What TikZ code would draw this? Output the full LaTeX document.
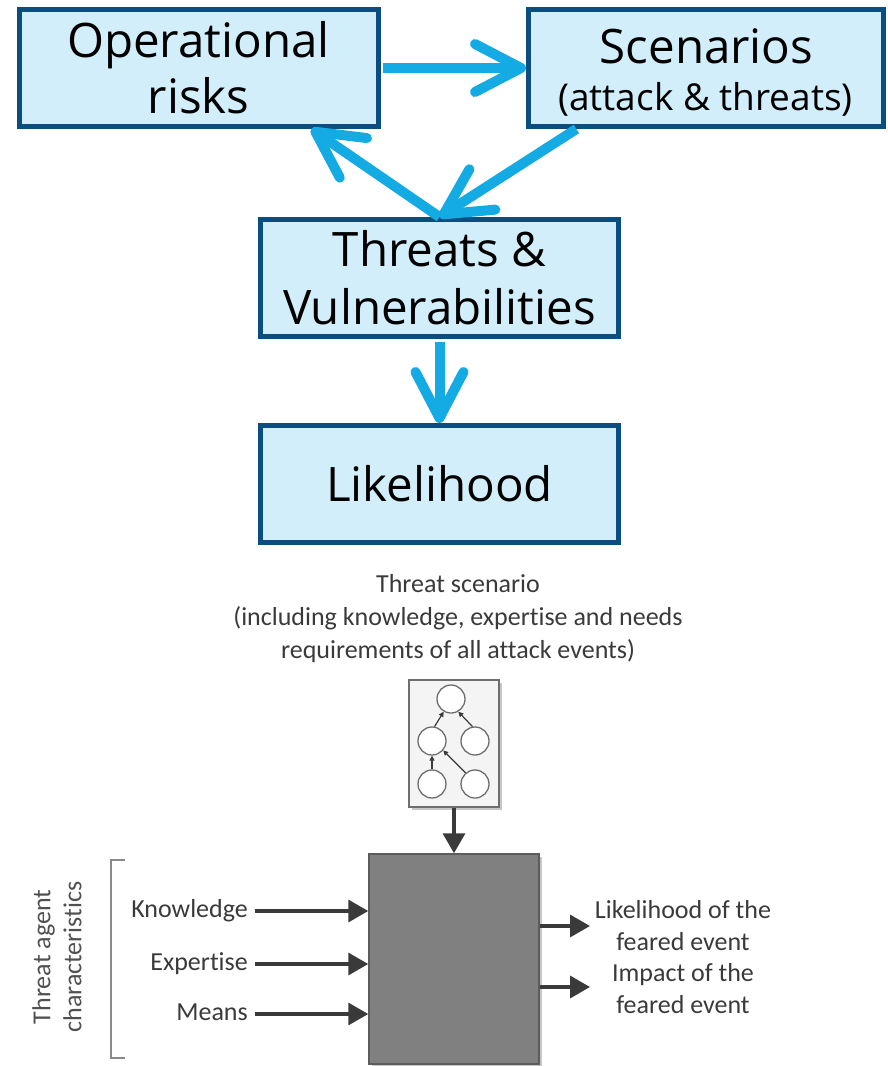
\documentclass[tikz,border=0pt]{standalone}
\usepackage{fontspec}
\setmainfont{Open Sans}
\newfontfamily\carlito[Ligatures=NoCommon]{Carlito}
\usetikzlibrary{arrows.meta,calc,shadows}

\definecolor{boxfill}{HTML}{D2EEFA}
\definecolor{boxline}{HTML}{0A4E80}
\definecolor{flowcyan}{HTML}{14AAE4}
\definecolor{txtgray}{HTML}{3A3A3A}
\definecolor{agentgray}{HTML}{505050}
\definecolor{bigfill}{HTML}{808080}
\definecolor{bigline}{HTML}{5C5C5C}
\definecolor{treefill}{HTML}{F4F4F4}
\definecolor{treeline}{HTML}{6E6E6E}
\definecolor{bracketgray}{HTML}{8A8A8A}

\tikzset{
  topbox/.style={draw=boxline, fill=boxfill, line width=5pt, rectangle,
    inner sep=0pt, align=center, font=\fontsize{47.5}{56}\selectfont},
  toptext/.style={inner sep=0pt, font=\fontsize{47.5}{56}\selectfont},
  flow/.style={draw=flowcyan, line width=10pt,
    -{Straight Barb[length=46pt,width=48pt,round]}},
  lbl/.style={inner sep=0pt, text=txtgray, font=\carlito\fontsize{26}{32}\selectfont},
  darr/.style={draw=txtgray, line width=3.5pt, -{Triangle[length=20pt,width=22pt]}},
  tarr/.style={draw=txtgray, line width=1.2pt, -{Triangle[length=5pt,width=5pt]}},
  evt/.style={circle, draw=treeline, line width=1.3pt, fill=white,
    minimum size=28pt, inner sep=0pt},
  softshadow/.style={drop shadow={shadow xshift=2.5pt, shadow yshift=-2.5pt,
    opacity=0.22, fill=black}}
}

\begin{document}
\begin{tikzpicture}[x=1pt,y=-1pt]
\useasboundingbox (0,0) rectangle (888,1066);

% upper flow: four boxes
\node[topbox, minimum width=359pt, minimum height=117pt] (op) at (198.5,68) {Operational\\risks};
\node[topbox, minimum width=355pt, minimum height=117pt] (scen) at (706,68) {};
\node[toptext, anchor=base] (scena) at (706.5,63) {Scenarios};
\node[toptext, anchor=base, font=\fontsize{37}{44}\selectfont] (scenb) at (705.5,110) {(attack \& threats)};
\node[topbox, minimum width=358pt, minimum height=117pt, font=\fontsize{47.5}{58}\selectfont]
  (thr) at (439.5,278) {Threats \&\\Vulnerabilities};
\node[topbox, minimum width=358pt, minimum height=117pt] (lik) at (439.5,484) {Likelihood};

% upper flow: arrows
\draw[flow] ([xshift=2.5pt]op.east) -- (scen.west);
\draw[flow] ($(scen.south west)!0.14!(scen.south east)$) -- (thr.north);
\draw[flow] (thr.north) -- ($(op.south west)!0.81!(op.south east)$);
\draw[flow] ([yshift=-2.5pt]thr.south) -- (lik.north);

% threat scenario caption
\node[lbl, align=center, font=\carlito\fontsize{26}{33}\selectfont] (tsc) at (458,619)
  {Threat scenario\\(including knowledge, expertise and needs\\requirements of all attack events)};

% attack tree
\node[draw=treeline, fill=treefill, line width=1.5pt, minimum width=90pt,
  minimum height=127pt, softshadow] (tree) at (454,743.5) {};
\node[evt] (t1) at (451,699) {};
\node[evt] (t2) at (432,741) {};
\node[evt] (t3) at (475,741) {};
\node[evt] (t4) at (432,784) {};
\node[evt] (t5) at (475,784) {};
\draw[tarr] (t2.80) -- (t1.240);
\draw[tarr] (t3.100) -- (t1.300);
\draw[tarr] (t4.north) -- (t2.south);
\draw[tarr] (t5.130) -- (t2.320);

% evaluation block
\node[draw=bigline, fill=bigfill, line width=1.5pt, minimum width=170pt,
  minimum height=210pt, softshadow] (big) at (454,959) {};
\draw[darr] (tree.south) -- (big.north);

% threat agent inputs
\node[lbl, anchor=base east] (kn) at (248,917) {Knowledge};
\node[lbl, anchor=base east] (ex) at (248,970) {Expertise};
\node[lbl, anchor=base east] (me) at (248,1020) {Means};
\coordinate (kns) at ([xshift=7pt,yshift=6pt]kn.base east);
\coordinate (exs) at ([xshift=7pt,yshift=6pt]ex.base east);
\coordinate (mes) at ([xshift=7pt,yshift=6pt]me.base east);
\draw[darr] (kns) -- (big.west |- kns);
\draw[darr] (exs) -- (big.west |- exs);
\draw[darr] (mes) -- (big.west |- mes);

\draw[draw=bracketgray, line width=2pt] (125,860) -- (111,860) -- (111,1058) -- (125,1058);
\node[lbl, align=center, rotate=90, text=agentgray, font=\carlito\fontsize{26}{31}\selectfont]
  (agent) at (57,957) {Threat agent\\characteristics};

% outputs
\coordinate (o1) at (590,926);
\coordinate (o2) at (590,987);
\draw[darr] (big.east |- o1) -- (o1);
\draw[darr] (big.east |- o2) -- (o2);
\node[lbl, align=center] (out1) at (683,925.5) {Likelihood of the\\feared event};
\node[lbl, align=center] (out2) at (683,989) {Impact of the\\feared event};
\end{tikzpicture}
\end{document}
